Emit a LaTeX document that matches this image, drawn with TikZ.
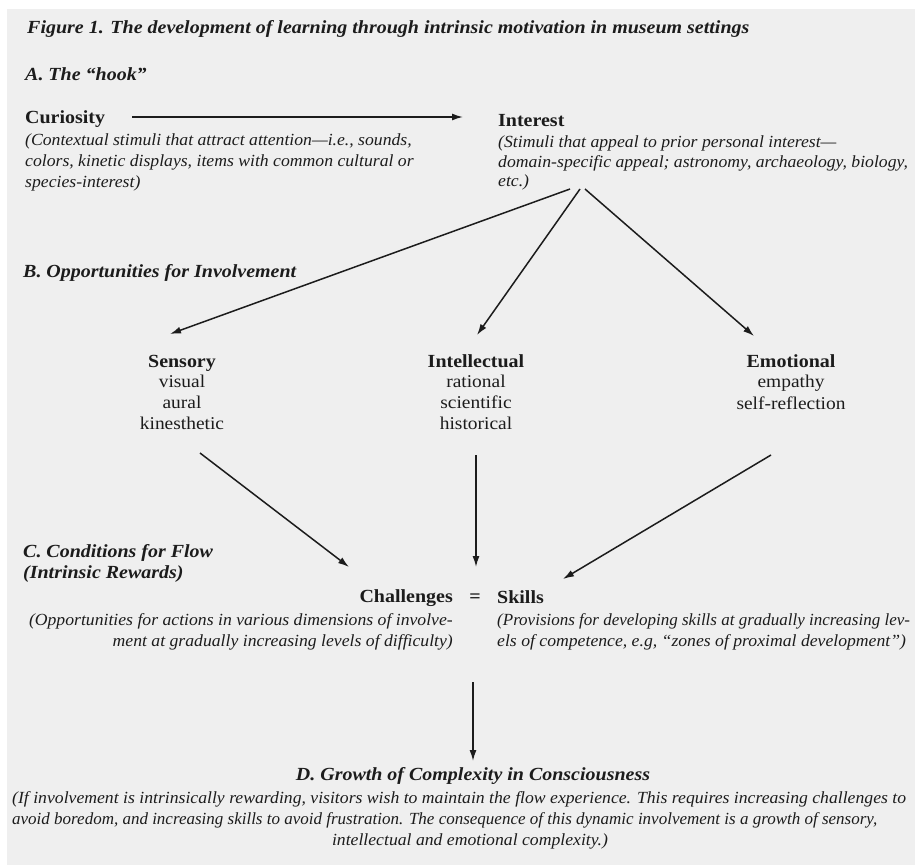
\documentclass[tikz,border=0pt]{standalone}
\usepackage{fontspec}
\setmainfont{Liberation Serif}
% slightly widened cuts of the serif for headings and running text
\newfontfamily\headfont[FakeStretch=1.08]{Liberation Serif}
\newfontfamily\descfont[FakeStretch=1.04]{Liberation Serif}
\newfontfamily\longfont[FakeStretch=1.0]{Liberation Serif}
\usetikzlibrary{arrows.meta}
\definecolor{paper}{HTML}{EFEFEF}
\definecolor{ink}{HTML}{1C1C1C}
\begin{document}
\begin{tikzpicture}[x=1pt,y=-1pt,
  base/.style={inner sep=0pt,text=ink},
  titletext/.style={base,anchor=base west,font=\headfont\fontsize{18.5}{21}\selectfont\bfseries\itshape},
  section/.style={base,anchor=base west,font=\headfont\fontsize{18.5}{21}\selectfont\bfseries\itshape},
  head/.style={base,font=\headfont\fontsize{18.5}{21}\selectfont\bfseries},
  desc/.style={base,font=\descfont\fontsize{17}{20.5}\selectfont\itshape},
  longdesc/.style={base,font=\longfont\fontsize{17}{20.5}\selectfont\itshape},
  sub/.style={base,anchor=base,font=\headfont\fontsize{18}{21}\selectfont},
  flow/.style={draw=ink,line width=1.5pt,-{Latex[length=11pt,width=7pt]}}]
% page and paper tone
\useasboundingbox (0,0) rectangle (915,865);
\fill[white] (0,0) rectangle (915,865);
\fill[paper] (7,9) rectangle (915,865);

% title and section labels
\node[titletext] (title) at (27,33) {Figure 1. The development of learning through intrinsic motivation in museum settings};
\node[section] (secA) at (25,80) {A. The “hook”};
\node[section] (secB) at (23,277) {B. Opportunities for Involvement};
\node[section] (secC1) at (23,557) {C. Conditions for Flow};
\node[section] (secC2) at (23,578) {(Intrinsic Rewards)};

% A: the hook
\node[head,anchor=base west] (curiosity) at (25,123) {Curiosity};
\node[desc,anchor=base west] (cur1) at (25,145) {(Contextual stimuli that attract attention—i.e., sounds,};
\node[desc,anchor=base west] (cur2) at (25,166) {colors, kinetic displays, items with common cultural or};
\node[desc,anchor=base west] (cur3) at (25,187) {species-interest)};

\node[head,anchor=base west] (interest) at (498,126) {Interest};
\node[desc,anchor=base west] (int1) at (498,147) {(Stimuli that appeal to prior personal interest—};
\node[desc,anchor=base west] (int2) at (498,167) {domain-specific appeal; astronomy, archaeology, biology,};
\node[desc,anchor=base west] (int3) at (498,186) {etc.)};

% B: kinds of involvement
\node[head,anchor=base] (sensory) at (182,367) {Sensory};
\node[sub] (sen1) at (182,387) {visual};
\node[sub] (sen2) at (182,408) {aural};
\node[sub] (sen3) at (182,429) {kinesthetic};

\node[head,anchor=base] (intellectual) at (476,367) {Intellectual};
\node[sub] (itl1) at (476,387) {rational};
\node[sub] (itl2) at (476,408) {scientific};
\node[sub] (itl3) at (476,429) {historical};

\node[head,anchor=base] (emotional) at (791,367) {Emotional};
\node[sub] (emo1) at (791,387) {empathy};
\node[sub] (emo2) at (791,409) {self-reflection};

% C: balance of challenges and skills
\node[head,anchor=base east] (challenges) at (453,602) {Challenges};
\node[head,anchor=base] (equals) at (475,602) {=};
\node[head,anchor=base west] (skills) at (497,603) {Skills};
\node[desc,anchor=base east] (cha1) at (453,625) {(Opportunities for actions in various dimensions of involve-};
\node[desc,anchor=base east] (cha2) at (453,646) {ment at gradually increasing levels of difficulty)};
\node[longdesc,anchor=base west] (ski1) at (497,625) {(Provisions for developing skills at gradually increasing lev-};
\node[desc,anchor=base west] (ski2) at (497,646) {els of competence, e.g, “zones of proximal development”)};

% D: outcome
\node[section,anchor=base] (secD) at (473,780) {D. Growth of Complexity in Consciousness};
\node[desc,anchor=base west] (d1) at (12,803) {(If involvement is intrinsically rewarding, visitors wish to maintain the flow experience. This requires increasing challenges to};
\node[longdesc,anchor=base west] (d2) at (12,824) {avoid boredom, and increasing skills to avoid frustration. The consequence of this dynamic involvement is a growth of sensory,};
\node[desc,anchor=base] (d3) at (470,845) {intellectual and emotional complexity.)};

% connector end points
\coordinate (curOut) at (132,117);
\coordinate (intIn) at (463,117);
\coordinate (intOutL) at (570,189);
\coordinate (intOutM) at (580,189);
\coordinate (intOutR) at (585,189);
\coordinate (senIn) at (170,334);
\coordinate (itlIn) at (477,335);
\coordinate (emoIn) at (754,336);
\coordinate (senOut) at (200,453);
\coordinate (itlOut) at (476,455);
\coordinate (emoOut) at (771,455);
\coordinate (chaIn) at (349,567);
\coordinate (midIn) at (476,567);
\coordinate (skiIn) at (563,579);
\coordinate (balOut) at (473,682);
\coordinate (dIn) at (473,761);

% connectors
\draw[flow] (curOut) -- (intIn);
\draw[flow] (intOutL) -- (senIn);
\draw[flow] (intOutM) -- (itlIn);
\draw[flow] (intOutR) -- (emoIn);
\draw[flow] (senOut) -- (chaIn);
\draw[flow] (itlOut) -- (midIn);
\draw[flow] (emoOut) -- (skiIn);
\draw[flow] (balOut) -- (dIn);
\end{tikzpicture}
\end{document}
